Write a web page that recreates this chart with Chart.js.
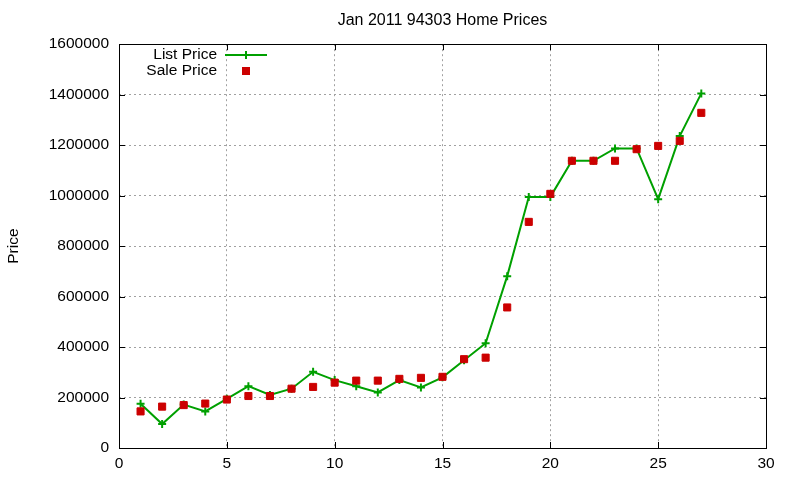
<!DOCTYPE html>
<html>
<head>
<meta charset="utf-8">
<script src="https://cdn.jsdelivr.net/npm/chart.js@4/dist/chart.umd.min.js"></script>
<style>
  body { margin: 0; background: #fff; }
  #wrap { width: 800px; height: 480px; }
</style>
</head>
<body>
<div id="wrap"><canvas id="line-chart"></canvas></div>
<script>
var houseNo = [1,2,3,4,5,6,7,8,9,10,11,12,13,14,15,16,17,18,19,20,21,22,23,24,25,26,27];
var listPrice = [175000,95000,172000,145000,195000,245000,210000,235000,302000,269000,245000,220000,269000,240000,280000,348000,415000,681000,995000,995000,1138000,1138000,1187000,1187000,986000,1236000,1405000];
var salePrice = [145000,164000,170000,176000,192000,206000,206000,235000,242000,259000,267000,267000,274000,278000,282000,352000,358000,557000,896000,1007000,1138000,1138000,1138000,1184000,1197000,1217000,1328000];
var xTicks = [0,5,10,15,20,25,30];
var yTicks = [0,200000,400000,600000,800000,1000000,1200000,1400000,1600000];

var FONT = 'Liberation Sans, Arial, sans-serif';
var GREEN = '#00a000';
var RED = '#cc0000';

function pts(ys) {
  return houseNo.map(function(x, i){ return {x: x, y: ys[i]}; });
}

// frame, inward ticks and the gnuplot-like key
var gnuFrame = {
  id: 'gnuFrame',
  afterDatasetsDraw: function(chart) {
    var ctx = chart.ctx, a = chart.chartArea;
    var sx = chart.scales.x, sy = chart.scales.y;
    ctx.save();
    ctx.strokeStyle = '#000';
    ctx.lineWidth = 1;
    ctx.beginPath();
    xTicks.forEach(function(v){
      var px = Math.round(sx.getPixelForValue(v)) + 0.5;
      ctx.moveTo(px, a.bottom); ctx.lineTo(px, a.bottom - 6);
      ctx.moveTo(px, a.top); ctx.lineTo(px, a.top + 6);
    });
    yTicks.forEach(function(v){
      var py = Math.round(sy.getPixelForValue(v)) + 0.5;
      ctx.moveTo(a.left, py); ctx.lineTo(a.left + 6, py);
      ctx.moveTo(a.right, py); ctx.lineTo(a.right - 6, py);
    });
    ctx.stroke();
    ctx.strokeRect(Math.round(a.left) + 0.5, Math.round(a.top) + 0.5,
                   Math.round(a.right - a.left), Math.round(a.bottom - a.top));

    // key
    ctx.font = '15.5px ' + FONT;
    ctx.fillStyle = '#000';
    ctx.textAlign = 'right';
    ctx.textBaseline = 'middle';
    ctx.fillText('List Price', 217, 55);
    ctx.fillText('Sale Price', 217, 71);
    ctx.strokeStyle = GREEN;
    ctx.lineWidth = 2;
    ctx.beginPath();
    ctx.moveTo(225, 55); ctx.lineTo(267, 55);
    ctx.moveTo(246, 51); ctx.lineTo(246, 59);
    ctx.stroke();
    ctx.fillStyle = RED;
    ctx.fillRect(242, 67, 8, 8);
    ctx.restore();
  }
};

var ctx = document.getElementById('line-chart');
var myChart = new Chart(ctx, {
  type: 'line',
  data: {
    datasets: [{
      label: 'Sale Price',
      data: pts(salePrice),
      showLine: false,
      pointStyle: 'rect',
      pointRadius: 5,
      pointBorderWidth: 1,
      pointBackgroundColor: RED,
      pointBorderColor: RED,
      order: 0
    }, {
      label: 'List Price',
      data: pts(listPrice),
      borderColor: GREEN,
      borderWidth: 2,
      tension: 0,
      pointStyle: 'cross',
      pointRadius: 4,
      pointBorderWidth: 2,
      pointBorderColor: GREEN,
      pointBackgroundColor: GREEN,
      order: 1
    }]
  },
  options: {
    responsive: true,
    maintainAspectRatio: false,
    animation: false,
    layout: { padding: { left: 0, right: 34, top: 0, bottom: 0 } },
    plugins: {
      legend: { display: false },
      tooltip: { enabled: false },
      title: {
        display: true,
        fullSize: false,
        text: 'Jan 2011 94303 Home Prices',
        color: '#000',
        font: { family: FONT, size: 16, weight: 'normal' },
        padding: { top: 11, bottom: 14 }
      }
    },
    scales: {
      x: {
        type: 'linear',
        min: 0, max: 30,
        afterFit: function(s){ s.height = 32; },
        afterBuildTicks: function(s){ s.ticks = xTicks.map(function(v){ return {value: v}; }); },
        ticks: { color: '#000', padding: 6, font: { family: FONT, size: 15.5 }, maxRotation: 0 },
        grid: { color: '#a0a0a0', drawTicks: false },
        border: { display: false, dash: [2, 3] }
      },
      y: {
        min: 0, max: 1600000,
        afterFit: function(s){ s.width = 119; },
        afterBuildTicks: function(s){ s.ticks = yTicks.map(function(v){ return {value: v}; }); },
        ticks: {
          color: '#000', padding: 10, font: { family: FONT, size: 15.5 },
          callback: function(v){ return String(v); }
        },
        grid: { color: '#a0a0a0', drawTicks: false },
        border: { display: false, dash: [2, 3] },
        title: {
          display: true, text: 'Price', color: '#000',
          font: { family: FONT, size: 15.5 }, padding: { top: 4, bottom: 4 }
        }
      }
    }
  },
  plugins: [gnuFrame]
});
</script>
</body>
</html>
